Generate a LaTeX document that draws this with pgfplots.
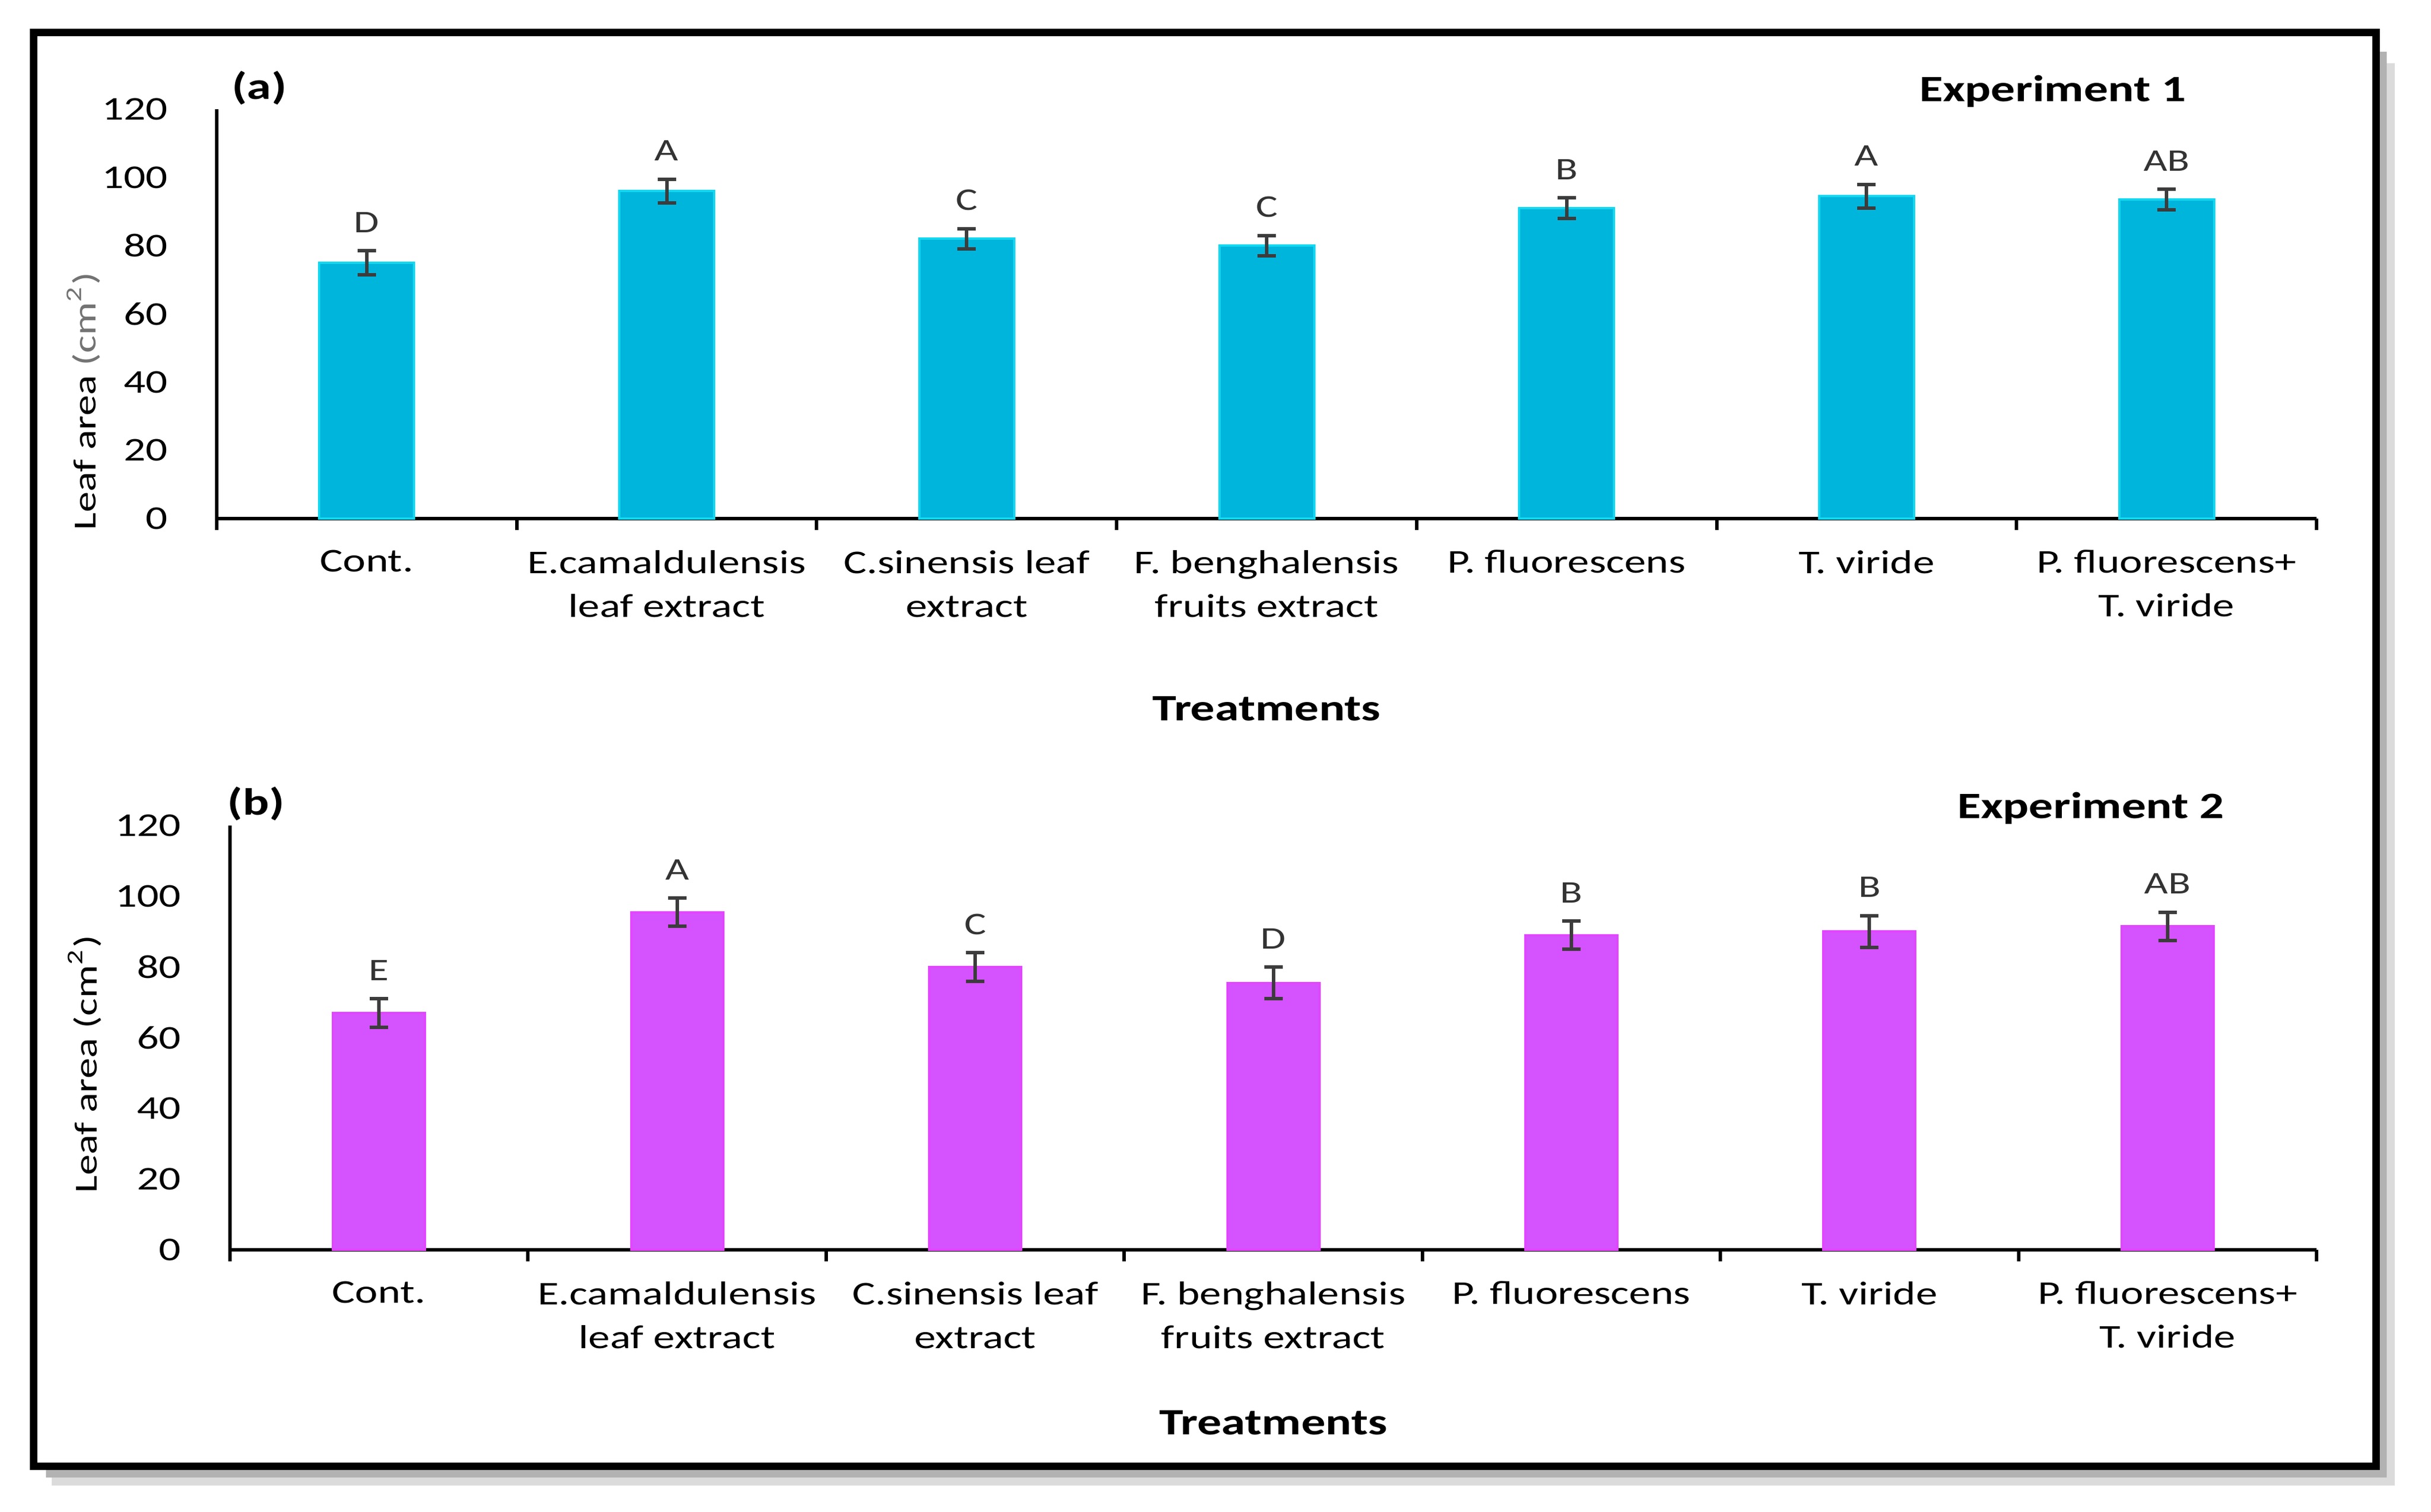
\documentclass[border=0pt]{standalone}
\usepackage{fontspec}
\setmainfont{Carlito}[FakeStretch=1.3]
\usepackage{pgfplots}
\usepackage{pgfplotstable}
\pgfplotsset{compat=1.18}

\definecolor{barA}{RGB}{0,181,220}
\definecolor{edgeA}{RGB}{20,215,240}
\definecolor{barB}{RGB}{213,82,255}
\definecolor{edgeB}{RGB}{225,70,255}
\definecolor{errc}{RGB}{60,60,60}

% Experiment 1: treatment, mean, error, letter
\pgfplotstableread{
x y e lab
1 75 3.5 D
2 96 3.5 A
3 82 3 C
4 80 3 C
5 91 3 B
6 94.5 3.5 A
7 93.5 3 AB
}\expA

% Experiment 2
\pgfplotstableread{
x y e lab
1 67 4 E
2 95.5 4 A
3 80 4 C
4 75.5 4.5 D
5 89 4 B
6 90 4.5 B
7 91.5 4 AB
}\expB

\pgfplotsset{leafax/.style={
    scale only axis,
    anchor=south west,
    xmin=0.5, xmax=7.5, ymin=0, ymax=120,
    axis lines*=left,
    axis line style={line width=0.6bp, black},
    xtick={1,...,7},
    xticklabels={Cont., {E.camaldulensis\\leaf extract}, {C.sinensis leaf\\extract},
        {F. benghalensis\\fruits extract}, P. fluorescens, T. viride,
        {P. fluorescens+\\T. viride}},
    minor xtick={0.5,1.5,...,7.5},
    ytick={0,20,...,120},
    major tick length=0pt,
    minor tick length=2bp,
    tick align=outside,
    minor tick style={line width=0.6bp, black},
    tick label style={font=\fontsize{5.8}{7.6}\selectfont},
    xticklabel style={align=center, yshift=-2bp},
    yticklabel style={xshift=-5bp},
    /pgf/number format/assume math mode=true,
    xlabel={\bfseries Treatments},
    xlabel style={font=\fontsize{6.5}{7.8}\selectfont, anchor=center},
    ylabel style={font=\fontsize{5.6}{6.7}\selectfont, anchor=center},
    clip=false,
}}

\begin{document}
\begin{tikzpicture}
\useasboundingbox (0,0) rectangle (422.8bp,263bp);

% shadow and frame
\draw[black!14, line width=3bp] (415bp,252bp) -- (415bp,6.1bp) -- (9bp,6.1bp);
\draw[black!30, line width=1.6bp] (414.3bp,254bp) -- (414.3bp,6.8bp) -- (8bp,6.8bp);
\draw[line width=1.3bp] (5.8bp,7.9bp) rectangle (413.2bp,257.3bp);

% (a) Experiment 1
\begin{axis}[leafax,
    at={(37.7bp,172.8bp)}, width=365.2bp, height=71.2bp,
    ylabel={Leaf area {\color{black!55}(cm\textsuperscript{2})}},
    ylabel style={at={(axis description cs:-0.0635,0.287)}},
    xlabel style={at={(axis description cs:0.5,-0.465)}},
]
\addplot[ybar, bar width=16.5bp, fill=barA, draw=edgeA, line width=0.4bp,
    error bars/.cd, y dir=both, y explicit,
    error bar style={line width=0.6bp, errc},
    error mark options={rotate=90, mark size=1.6bp, line width=0.6bp, errc}]
    table[x=x, y=y, y error=e] {\expA};
\addplot[draw=none, mark=none, nodes near coords, point meta=explicit symbolic,
    nodes near coords style={anchor=south, inner sep=0pt, yshift=3bp,
        font=\fontsize{5.5}{6}\selectfont, text=black!80}]
    table[x=x, y expr=\thisrow{y}+\thisrow{e}, meta=lab] {\expA};
\end{axis}

% (b) Experiment 2
\begin{axis}[leafax,
    at={(40bp,45.6bp)}, width=362.9bp, height=73.8bp,
    ylabel={Leaf area (cm\textsuperscript{2})},
    ylabel style={at={(axis description cs:-0.0697,0.438)}},
    xlabel style={at={(axis description cs:0.5,-0.408)}},
]
\addplot[ybar, bar width=16bp, fill=barB, draw=edgeB, line width=0.4bp,
    error bars/.cd, y dir=both, y explicit,
    error bar style={line width=0.6bp, errc},
    error mark options={rotate=90, mark size=1.6bp, line width=0.6bp, errc}]
    table[x=x, y=y, y error=e] {\expB};
\addplot[draw=none, mark=none, nodes near coords, point meta=explicit symbolic,
    nodes near coords style={anchor=south, inner sep=0pt, yshift=3bp,
        font=\fontsize{5.5}{6}\selectfont, text=black!80}]
    table[x=x, y expr=\thisrow{y}+\thisrow{e}, meta=lab] {\expB};
\end{axis}

% panel titles
\node[font=\fontsize{6.6}{7.8}\selectfont\bfseries] at (45.1bp,247.7bp) {(a)};
\node[font=\fontsize{6.5}{7.8}\selectfont\bfseries] at (357bp,247.1bp) {Experiment 1};
\node[font=\fontsize{6.6}{7.8}\selectfont\bfseries] at (44.5bp,123.2bp) {(b)};
\node[font=\fontsize{6.5}{7.8}\selectfont\bfseries] at (363.6bp,122.4bp) {Experiment 2};
\end{tikzpicture}
\end{document}
